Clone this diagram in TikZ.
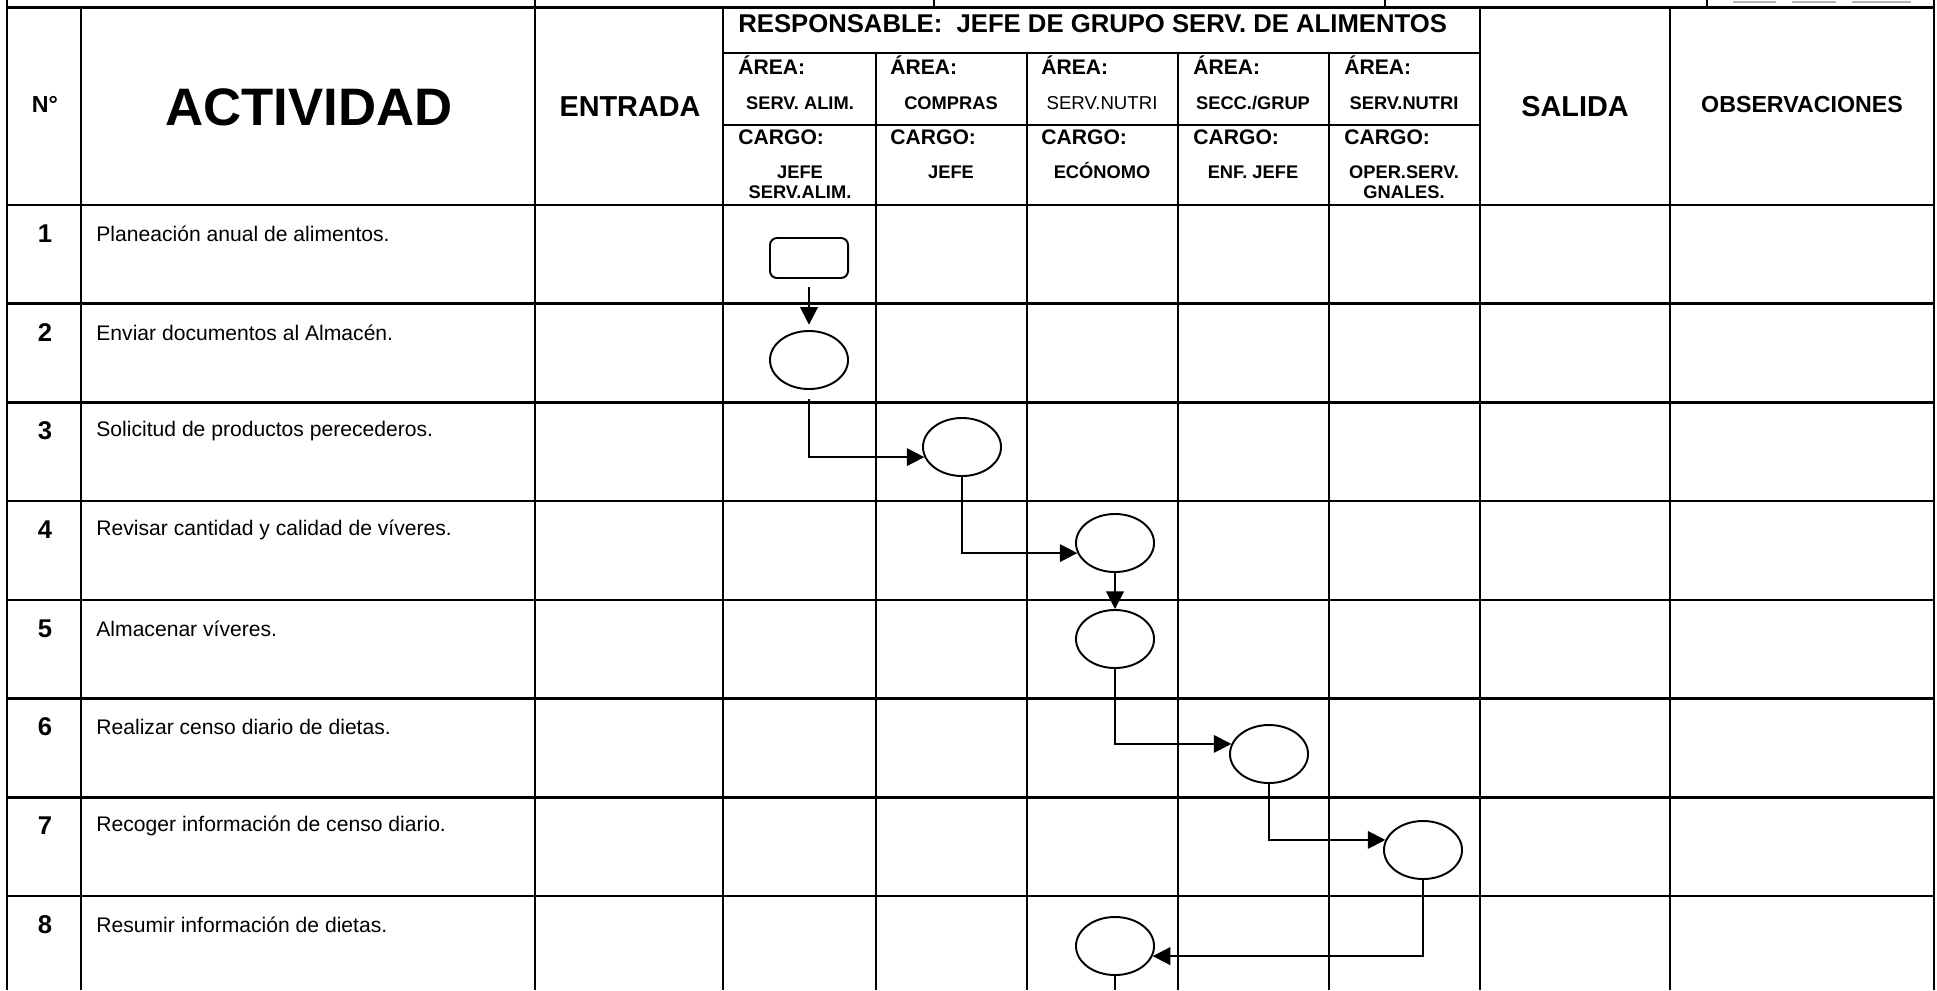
\documentclass[tikz,border=0pt]{standalone}
\usepackage{fontspec}
\setmainfont{Liberation Sans}
\usetikzlibrary{arrows.meta,shapes.geometric}

\begin{document}
\begin{tikzpicture}[x=0.01cm, y=-0.01cm,
    rejilla/.style={line width=0.75pt},
    titulo/.style={font=\bfseries\fontsize{8.2}{10}\selectfont},
    etiq/.style={font=\bfseries\fontsize{6}{7}\selectfont, anchor=west},
    celda/.style={font=\bfseries\fontsize{5.2}{5.9}\selectfont, align=center, anchor=north},
    numero/.style={font=\bfseries\fontsize{7.3}{9}\selectfont},
    actividad/.style={font=\fontsize{6}{7}\selectfont, anchor=west},
    proceso/.style={draw, ellipse, line width=0.55pt, minimum width=0.78cm, minimum height=0.58cm, inner sep=0pt},
    inicio/.style={draw, rounded corners=2pt, line width=0.55pt, minimum width=0.78cm, minimum height=0.40cm, inner sep=0pt},
    flecha/.style={line width=0.55pt, -{Triangle[length=5pt,width=5pt]}}]

    \useasboundingbox (0,0) rectangle (1937,990);

    % Table frame
    \draw[rejilla] (7,7.5) -- (1934,7.5); % top of header
    \draw[rejilla] (723,53) -- (1480,53); % under the RESPONSABLE line
    \draw[rejilla] (723,125) -- (1480,125); % between AREA and CARGO
    \foreach \y in {205,303.7,402.4,501.1,599.8,698.5,797.2,895.9}
        \draw[rejilla] (7,\y) -- (1934,\y);
    \foreach \x in {7,81,535,723,1480,1670,1934}
        \draw[rejilla] (\x,7.5) -- (\x,990);
    \foreach \x in {876,1027,1178,1329}
        \draw[rejilla] (\x,53) -- (\x,990);
    \foreach \x in {7,535,934,1385,1707,1934}
        \draw[rejilla] (\x,0) -- (\x,7.5); % row above, cut off

    % blanks for the date
    \draw[gray!60, line width=0.4pt] (1733,2) -- (1776,2);
    \draw[gray!60, line width=0.4pt] (1792,2) -- (1836,2);
    \draw[gray!60, line width=0.4pt] (1852,2) -- (1911,2);

    % Header
    \node[font=\bfseries\fontsize{6.6}{8}\selectfont] (hnum) at (45,104) {N°};
    \node[font=\bfseries\fontsize{15}{18}\selectfont] (hact) at (309,107) {ACTIVIDAD};
    \node[titulo] (hent) at (630,107) {ENTRADA};
    \node[titulo] (hsal) at (1575,107) {SALIDA};
    \node[font=\bfseries\fontsize{6.6}{8}\selectfont] (hobs) at (1802,104) {OBSERVACIONES};
    \node[font=\bfseries\fontsize{7.3}{9}\selectfont, anchor=west] (hresp) at (726,24) {RESPONSABLE:\ \ JEFE DE GRUPO SERV. DE ALIMENTOS};

    \node[etiq] (area1) at (726,65) {ÁREA:};
    \node[etiq] (area2) at (878,65) {ÁREA:};
    \node[etiq] (area3) at (1029,65) {ÁREA:};
    \node[etiq] (area4) at (1181,65) {ÁREA:};
    \node[etiq] (area5) at (1332,65) {ÁREA:};
    \node[celda, anchor=center] (av1) at (800,103) {SERV. ALIM.};
    \node[celda, anchor=center] (av2) at (951,103) {COMPRAS};
    \node[celda, anchor=center, font=\fontsize{5.3}{6.3}\selectfont] (av3) at (1102,103) {SERV.NUTRI};
    \node[celda, anchor=center] (av4) at (1253,103) {SECC./GRUP};
    \node[celda, anchor=center] (av5) at (1404,103) {SERV.NUTRI};

    \node[etiq] (cargo1) at (726,137) {CARGO:};
    \node[etiq] (cargo2) at (878,137) {CARGO:};
    \node[etiq] (cargo3) at (1029,137) {CARGO:};
    \node[etiq] (cargo4) at (1181,137) {CARGO:};
    \node[etiq] (cargo5) at (1332,137) {CARGO:};
    \node[celda] (cv1) at (800,153) {JEFE\\SERV.ALIM.};
    \node[celda] (cv2) at (951,153) {JEFE};
    \node[celda] (cv3) at (1102,150) {ECÓNOMO};
    \node[celda] (cv4) at (1253,153) {ENF. JEFE};
    \node[celda] (cv5) at (1404,153) {OPER.SERV.\\GNALES.};

    % Activities
    \node[numero] (n1) at (45,234) {1};
    \node[actividad] (a1) at (84,234) {Planeación anual de alimentos.};
    \node[numero] (n2) at (45,333) {2};
    \node[actividad] (a2) at (84,333) {Enviar documentos al Almacén.};
    \node[numero] (n3) at (45,431) {3};
    \node[actividad] (a3) at (84,431) {Solicitud de productos perecederos.};
    \node[numero] (n4) at (45,530) {4};
    \node[actividad] (a4) at (84,530) {Revisar cantidad y calidad de víveres.};
    \node[numero] (n5) at (45,629) {5};
    \node[actividad] (a5) at (84,629) {Almacenar víveres.};
    \node[numero] (n6) at (45,727) {6};
    \node[actividad] (a6) at (84,727) {Realizar censo diario de dietas.};
    \node[numero] (n7) at (45,826) {7};
    \node[actividad] (a7) at (84,826) {Recoger información de censo diario.};
    \node[numero] (n8) at (45,925) {8};
    \node[actividad] (a8) at (84,925) {Resumir información de dietas.};

    % Flow symbols
    \node[inicio] (p1) at (809,258) {};
    \node[proceso] (p2) at (809,360) {};
    \node[proceso] (p3) at (962,447) {};
    \node[proceso] (p4) at (1115,543) {};
    \node[proceso] (p5) at (1115,639) {};
    \node[proceso] (p6) at (1269,754) {};
    \node[proceso] (p7) at (1423,850) {};
    \node[proceso] (p8) at (1115,946) {};
    \coordinate (fin) at (1115,990);

    % Connectors
    \draw[flecha, shorten <=2.3pt, shorten >=1.5pt] (p1) -- (p2);
    \draw[flecha, shorten <=2.6pt] (p2.south) |- (p3.195);
    \draw[flecha] (p3.south) |- (p4.195);
    \draw[flecha] (p4) -- (p5);
    \draw[flecha] (p5.south) |- (p6.165);
    \draw[flecha] (p6.south) |- (p7.165);
    \draw[flecha] (p7.south) |- (p8.-15);
    \draw[line width=0.55pt] (p8.south) -- (fin);
\end{tikzpicture}
\end{document}
